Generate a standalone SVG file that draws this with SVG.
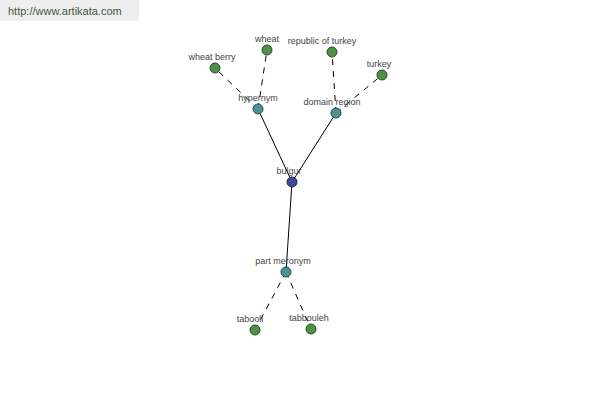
<svg xmlns="http://www.w3.org/2000/svg" width="600" height="400" viewBox="0 0 600 400">
<style>
.lbl{font-family:"Liberation Sans",Arial,sans-serif;font-size:9px;fill:#444;text-anchor:middle}
.leaf{fill:#4f9146;stroke:#2a4a2a;stroke-width:1}
.mid{fill:#4a9396;stroke:#2a4a4a;stroke-width:1}
.root{fill:#41479a;stroke:#222244;stroke-width:1}
.solid{stroke:#000;stroke-width:1;fill:none}
.dash{stroke:#000;stroke-width:1;fill:none;stroke-dasharray:6,6}
</style>
<rect x="0" y="0" width="600" height="400" fill="#fff"/>
<rect x="0" y="0" width="139" height="21" fill="#eeeeee"/>
<text x="8" y="15" font-family="Liberation Sans,Arial,sans-serif" font-size="11" fill="#3d5a3d">http://www.artikata.com</text>
<g id="connectors">
<line class="solid" x1="292" y1="182" x2="258" y2="109"/>
<line class="solid" x1="292" y1="182" x2="336" y2="113"/>
<line class="solid" x1="292" y1="182" x2="286" y2="272"/>
<line class="dash" x1="258" y1="109" x2="215" y2="68"/>
<line class="dash" x1="258" y1="109" x2="267" y2="50"/>
<line class="dash" x1="336" y1="113" x2="332" y2="52"/>
<line class="dash" x1="336" y1="113" x2="382" y2="75"/>
<line class="dash" x1="286" y1="272" x2="255" y2="330"/>
<line class="dash" x1="286" y1="272" x2="311" y2="329"/>
</g>
<g id="bulgur"><circle class="root" cx="292" cy="182" r="5"/><text class="lbl" x="289" y="174">bulgur</text></g>
<g id="hypernym"><circle class="mid" cx="258" cy="109" r="5"/><text class="lbl" x="258" y="101">hypernym</text></g>
<g id="domain-region"><circle class="mid" cx="336" cy="113" r="5"/><text class="lbl" x="332" y="105">domain region</text></g>
<g id="part-meronym"><circle class="mid" cx="286" cy="272" r="5"/><text class="lbl" x="283" y="264">part meronym</text></g>
<g id="wheat-berry"><circle class="leaf" cx="215" cy="68" r="5"/><text class="lbl" x="212" y="60">wheat berry</text></g>
<g id="wheat"><circle class="leaf" cx="267" cy="50" r="5"/><text class="lbl" x="267" y="42">wheat</text></g>
<g id="republic-of-turkey"><circle class="leaf" cx="332" cy="52" r="5"/><text class="lbl" x="322" y="44">republic of turkey</text></g>
<g id="turkey"><circle class="leaf" cx="382" cy="75" r="5"/><text class="lbl" x="379" y="67">turkey</text></g>
<g id="tabooli"><circle class="leaf" cx="255" cy="330" r="5"/><text class="lbl" x="250" y="322">tabooli</text></g>
<g id="tabbouleh"><circle class="leaf" cx="311" cy="329" r="5"/><text class="lbl" x="309" y="321">tabbouleh</text></g>
</svg>
